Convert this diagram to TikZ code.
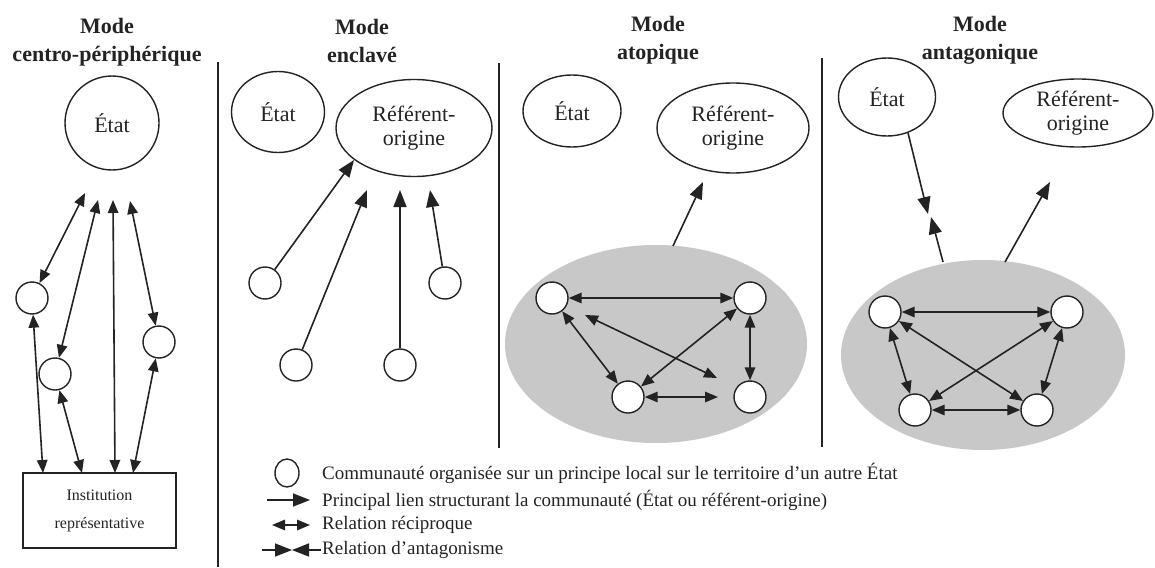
\documentclass[tikz,border=0pt]{standalone}
\usepackage{fontspec}
\setmainfont{Liberation Serif}
\usetikzlibrary{shapes.geometric,arrows.meta}
\definecolor{ink}{RGB}{35,35,35}
\definecolor{zonegray}{RGB}{200,200,200}
\begin{document}
\begin{tikzpicture}[x=1pt,y=-1pt,
  ln/.style={draw=ink, line width=1.6pt},
  sgl/.style={ln, -{Triangle[length=17pt,width=13pt]}},
  dbl/.style={ln, {Triangle[length=13pt,width=10.5pt]}-{Triangle[length=13pt,width=10.5pt]}},
  oval/.style={ellipse, draw=ink, line width=1.4pt, inner sep=0pt, align=center, text=ink, font=\fontsize{22}{24}\selectfont},
  comm/.style={circle, draw=ink, line width=1.4pt, fill=white, minimum size=32pt, inner sep=0pt},
  zone/.style={ellipse, fill=zonegray, inner sep=0pt},
  title/.style={font=\fontsize{22}{28}\selectfont\bfseries, align=center, text=ink, inner sep=0pt},
  sep/.style={draw=ink, line width=1.6pt},
  leg/.style={anchor=west, font=\fontsize{19}{22}\selectfont, text=ink, inner sep=0pt}
]
\useasboundingbox (0,0) rectangle (1155,567);

% titles
\node[title] (t1) at (107,42) {Mode\\centro-périphérique};
\node[title] (t2) at (362,41) {Mode\\enclavé};
\node[title] (t3) at (658,40) {Mode\\atopique};
\node[title] (t4) at (980,40) {Mode\\antagonique};

% separators
\draw[sep] (218,62) -- (218,567);
\draw[sep] (499,63) -- (499,448);
\draw[sep] (822,58) -- (822,447);

% ---------- column 1
\node[oval, circle, minimum size=94pt] (etat1) at (112,123) {État};
\node[comm] (p1) at (32,298) {};
\node[comm] (p2) at (55,374) {};
\node[comm] (p3) at (159,342) {};
\node[draw=ink, line width=1.4pt, minimum width=153pt, minimum height=75pt, inner sep=0pt,
      align=center, text=ink, font=\fontsize{16}{28}\selectfont] (inst) at (99.5,510.5) {Institution\\représentative};
\coordinate (u1) at (85,193);
\coordinate (u2) at (98,200);
\coordinate (u3) at (113,200);
\coordinate (u4) at (130,201);
\coordinate (d1) at (43,473);
\coordinate (d2) at (82,473);
\coordinate (d3) at (115,473);
\coordinate (d4) at (133,473);
\draw[dbl] (p1) -- (u1);
\draw[dbl] (p2) -- (u2);
\draw[dbl] (d3) -- (u3);
\draw[dbl] (p3) -- (u4);
\draw[dbl] (p1) -- (d1);
\draw[dbl] (p2) -- (d2);
\draw[dbl] (p3) -- (d4);

% ---------- column 2
\node[oval, minimum width=93pt, minimum height=81pt] (etat2) at (278,112) {État};
\node[oval, minimum width=156pt, minimum height=97pt] (ref2) at (414,128) {Référent-\\origine};
\node[comm] (q1) at (265,283) {};
\node[comm] (q2) at (296,365) {};
\node[comm] (q3) at (400,365) {};
\node[comm] (q4) at (445,283) {};
\coordinate (v1) at (354,160);
\coordinate (v2) at (367,190);
\coordinate (v3) at (400,190);
\coordinate (v4) at (430,190);
\draw[sgl] (q1) -- (v1);
\draw[sgl] (q2) -- (v2);
\draw[sgl] (q3) -- (v3);
\draw[sgl] (q4) -- (v4);

% ---------- column 3
\node[oval, minimum width=98pt, minimum height=72pt] (etat3) at (572,111) {État};
\node[oval, minimum width=152pt, minimum height=90pt] (ref3) at (733,128) {Référent-\\origine};
\node[zone, minimum width=302pt, minimum height=198pt] (zone3) at (656,344) {};
\coordinate (z3s) at (673,246);
\coordinate (z3e) at (703,182);
\draw[sgl] (z3s) -- (z3e);
\node[comm] (r1) at (552,298) {};
\node[comm] (r2) at (750,298) {};
\node[comm] (r3) at (628,397) {};
\node[comm] (r4) at (750,397) {};
\coordinate (w1) at (585,315);
\coordinate (w2) at (717,378);
\coordinate (w3) at (718,397);
\draw[dbl] (r1) -- (r2);
\draw[dbl] (r1) -- (r3);
\draw[dbl] (w1) -- (w2);
\draw[dbl] (r2) -- (r3);
\draw[dbl] (r2) -- (r4);
\draw[dbl] (r3) -- (w3);

% ---------- column 4
\node[oval, minimum width=97pt, minimum height=78pt] (etat4) at (887,97) {État};
\node[oval, minimum width=150pt, minimum height=68pt] (ref4) at (1078,113) {Référent-\\origine};
\node[zone, minimum width=284pt, minimum height=190pt] (zone4) at (983,355) {};
\coordinate (a1) at (908,133);
\coordinate (am1) at (928,214);
\coordinate (am2) at (931,217);
\coordinate (a2) at (943,262);
\draw[sgl] (a1) -- (am1);
\draw[sgl] (a2) -- (am2);
\coordinate (b1) at (1005,262);
\coordinate (b2) at (1050,182);
\draw[sgl] (b1) -- (b2);
\node[comm] (s1) at (885,312) {};
\node[comm] (s2) at (1067,312) {};
\node[comm] (s3) at (915,410) {};
\node[comm] (s4) at (1037,410) {};
\draw[dbl] (s1) -- (s2);
\draw[dbl] (s1) -- (s3);
\draw[dbl] (s1) -- (s4);
\draw[dbl] (s2) -- (s3);
\draw[dbl] (s2) -- (s4);
\draw[dbl] (s3) -- (s4);

% ---------- legend
\node[ellipse, draw=ink, line width=1.4pt, minimum width=24pt, minimum height=28pt, inner sep=0pt] (lc) at (287,473) {};
\node[leg] (lt1) at (322,473) {Communauté organisée sur un principe local sur le territoire d'un autre État};
\node[leg] (lt2) at (322,500) {Principal lien structurant la communauté (État ou référent-origine)};
\node[leg] (lt3) at (322,525) {Relation réciproque};
\node[leg] (lt4) at (322,550) {Relation d'antagonisme};
\coordinate (l2a) at (267,500);
\coordinate (l2b) at (310,500);
\draw[sgl] (l2a) -- (l2b);
\coordinate (l3a) at (272,525);
\coordinate (l3b) at (310,525);
\draw[dbl] (l3a) -- (l3b);
\coordinate (l4a) at (262,550);
\coordinate (l4m) at (292,550);
\coordinate (l4b) at (321,550);
\draw[sgl] (l4a) -- (l4m);
\draw[sgl] (l4b) -- (l4m);
\end{tikzpicture}
\end{document}
